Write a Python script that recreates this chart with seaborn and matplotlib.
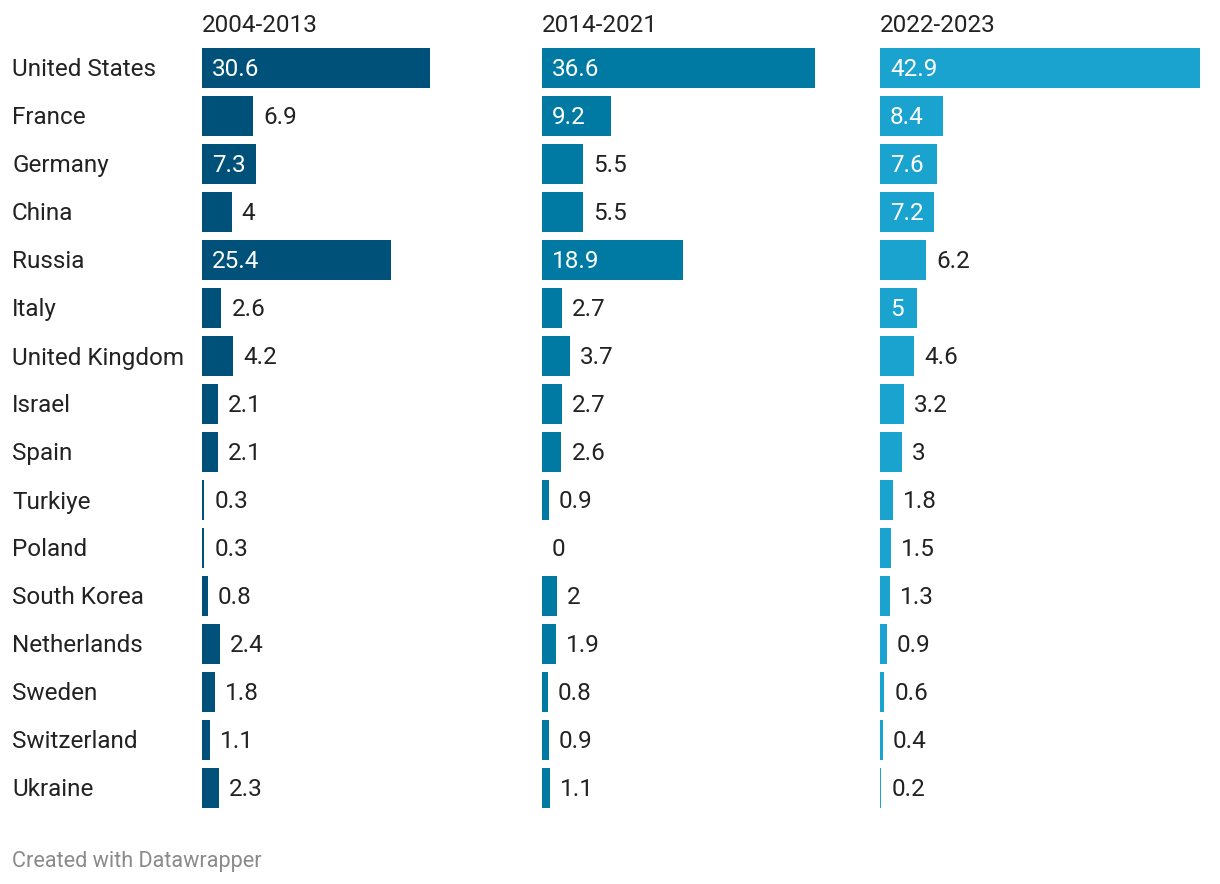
import matplotlib
matplotlib.use("Agg")
import matplotlib.pyplot as plt
import matplotlib.transforms as mtransforms
import seaborn as sns
import pandas as pd

countries = ["United States", "France", "Germany", "China", "Russia", "Italy",
             "United Kingdom", "Israel", "Spain", "Turkiye", "Poland", "South Korea",
             "Netherlands", "Sweden", "Switzerland", "Ukraine"]
period_labels = ["2004-2013", "2014-2021", "2022-2023"]
share_2004_2013 = [30.6, 6.9, 7.3, 4, 25.4, 2.6, 4.2, 2.1, 2.1, 0.3, 0.3, 0.8, 2.4, 1.8, 1.1, 2.3]
share_2014_2021 = [36.6, 9.2, 5.5, 5.5, 18.9, 2.7, 3.7, 2.7, 2.6, 0.9, 0, 2, 1.9, 0.8, 0.9, 1.1]
share_2022_2023 = [42.9, 8.4, 7.6, 7.2, 6.2, 5, 4.6, 3.2, 3, 1.8, 1.5, 1.3, 0.9, 0.6, 0.4, 0.2]
series = [share_2004_2013, share_2014_2021, share_2022_2023]
colors = ["#00517a", "#0079a3", "#1aa3cf"]

sns.set_theme(style="white")
plt.rcParams["font.family"] = ["Roboto", "DejaVu Sans"]

W, H = 1220, 884
DPI = 100
fig = plt.figure(figsize=(W / DPI, H / DPI), dpi=DPI)
fig.patch.set_facecolor("white")

panel_left = [202, 542, 880]
panel_w = 320
px_per_unit = 7.455
top_px, bottom_px = 44, 812
FS = 17.5
TXT = "#222222"

renderer = fig.canvas.get_renderer()
axes = []
for i, (vals, col, lab) in enumerate(zip(series, colors, period_labels)):
    ax = fig.add_axes([panel_left[i] / W, (H - bottom_px) / H, panel_w / W, (bottom_px - top_px) / H])
    df = pd.DataFrame({"country": countries, "value": vals})
    sns.barplot(data=df, x="value", y="country", orient="h", color=col,
                saturation=1, width=40 / 48, ax=ax, linewidth=0)
    ax.set_xlim(0, panel_w / px_per_unit)
    ax.set_ylim(len(countries) - 0.5, -0.5)
    ax.set_xlabel("")
    ax.set_ylabel("")
    ax.set_xticks([])
    ax.set_yticks([])
    for s in ax.spines.values():
        s.set_visible(False)
    ax.patch.set_alpha(0)
    fig.text(panel_left[i] / W, 1 - 26 / H, lab, fontsize=FS, color=TXT,
             ha="left", va="center")
    for j, v in enumerate(vals):
        txt = f"{v:g}"
        inside = mtransforms.offset_copy(ax.transData, fig=fig, x=10, y=-2, units="dots")
        t = ax.text(0, j, txt, transform=inside, ha="left", va="center",
                    fontsize=FS, color="white")
        tw = t.get_window_extent(renderer).width
        bar_px = v * px_per_unit
        if tw + 20 > bar_px:
            t.remove()
            ax.text(v, j, txt, transform=inside, ha="left", va="center",
                    fontsize=FS, color=TXT)
    axes.append(ax)

# country labels
ax0 = axes[0]
lab_tr = mtransforms.offset_copy(
    mtransforms.blended_transform_factory(fig.transFigure, ax0.transData),
    fig=fig, x=0, y=-2, units="dots")
for j, c in enumerate(countries):
    fig.text(12 / W, j, c, transform=lab_tr, fontsize=FS, color=TXT, ha="left", va="center")

fig.text(12 / W, 1 - 862 / H, "Created with Datawrapper", fontsize=15.6, color="#8a8a8a",
         ha="left", va="center")

fig.savefig("out.png", dpi=DPI, facecolor="white")
